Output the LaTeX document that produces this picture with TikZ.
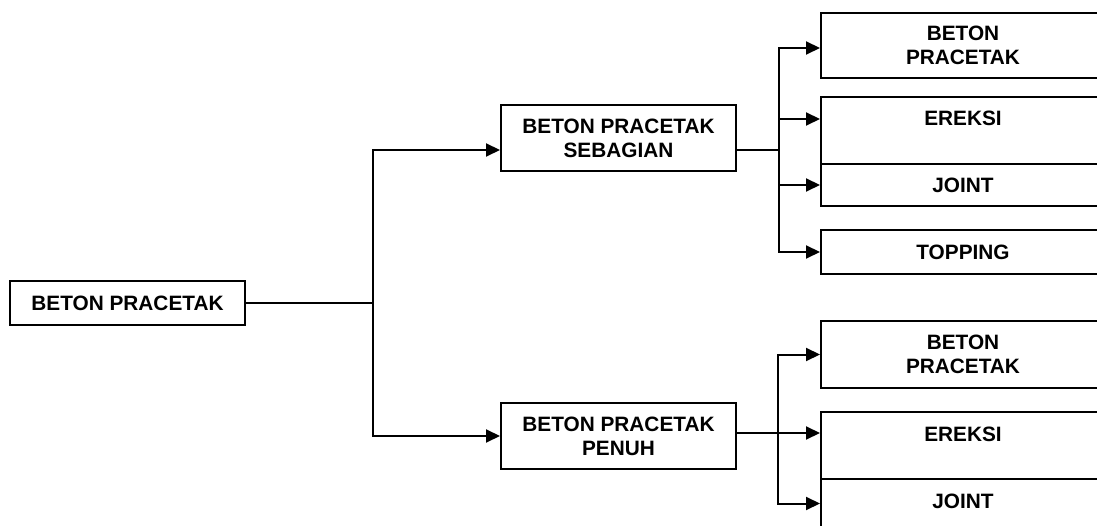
\documentclass[tikz,border=0pt]{standalone}
\usepackage{fontspec}
\setmainfont{Liberation Sans}
\usetikzlibrary{
	positioning,
	arrows.meta
}

\tikzset{
	box/.style={draw, line width=2pt, inner sep=0pt, align=center,
		font=\bfseries\fontsize{20.8}{24}\selectfont},
	sidebox/.style={box, anchor=north west, minimum width=284pt},
	tallbox/.style={sidebox, text height=29pt, text depth=38pt},
	link/.style={line width=2pt},
	arr/.style={link, -{Triangle[length=14pt,width=13pt]}}
}

\begin{document}
\begin{tikzpicture}[x=1pt,y=-1pt]
		\useasboundingbox (0,0) rectangle (1097,526);
		\clip (0,0) rectangle (1097,526);

		% main levels
		\node [box,minimum width=235pt,minimum height=44pt] (pc)       at (127.5,303) {BETON PRACETAK};
		\node [box,minimum width=235pt,minimum height=66pt] (sebagian) at (618.5,138) {BETON PRACETAK\\SEBAGIAN};
		\node [box,minimum width=235pt,minimum height=66pt] (penuh)    at (618.5,436) {BETON PRACETAK\\PENUH};

		% sebagian
		\node [sidebox,minimum height=65pt] (sb1) at (820,12)  {BETON\\PRACETAK};
		\node [tallbox]                     (sb2) at (820,96)  {EREKSI};
		\node [sidebox,minimum height=42pt] (sb3) at (820,163) {JOINT};
		\node [sidebox,minimum height=44pt] (sb4) at (820,229) {TOPPING};

		% penuh
		\node [sidebox,minimum height=67pt] (pn1) at (820,320) {BETON\\PRACETAK};
		\node [tallbox]                     (pn2) at (820,411) {EREKSI};
		\node [tallbox]                     (pn3) at (820,478) {JOINT};

		\coordinate (split)  at ([xshift=127pt]pc.east);
		\coordinate (splitA) at ([xshift=42pt,yshift=-12pt]sebagian.east);
		\coordinate (splitB) at ([xshift=41pt,yshift=3pt]penuh.east);

		\draw [link] (pc.east) -- (split);
		\draw [arr] (split) |- ([yshift=-12pt]sebagian.west);
		\draw [arr] (split) |- (penuh.west);

		\draw [link] ([yshift=-12pt]sebagian.east) -- (splitA);
		\draw [arr] (splitA) |- ([yshift=-2.5pt]sb1.west);
		\draw [arr] (splitA) |- ([yshift=11.5pt]sb2.west);
		\draw [arr] (splitA) |- (sb3.west);
		\draw [arr] (splitA) |- (sb4.west);

		\draw [arr] ([yshift=3pt]penuh.east) -- (splitB) -- (splitB -| pn2.west);
		\draw [arr] (splitB) |- (pn1.west);
		\draw [arr] (splitB) |- ([yshift=9pt]pn3.west);
\end{tikzpicture}
\end{document}
